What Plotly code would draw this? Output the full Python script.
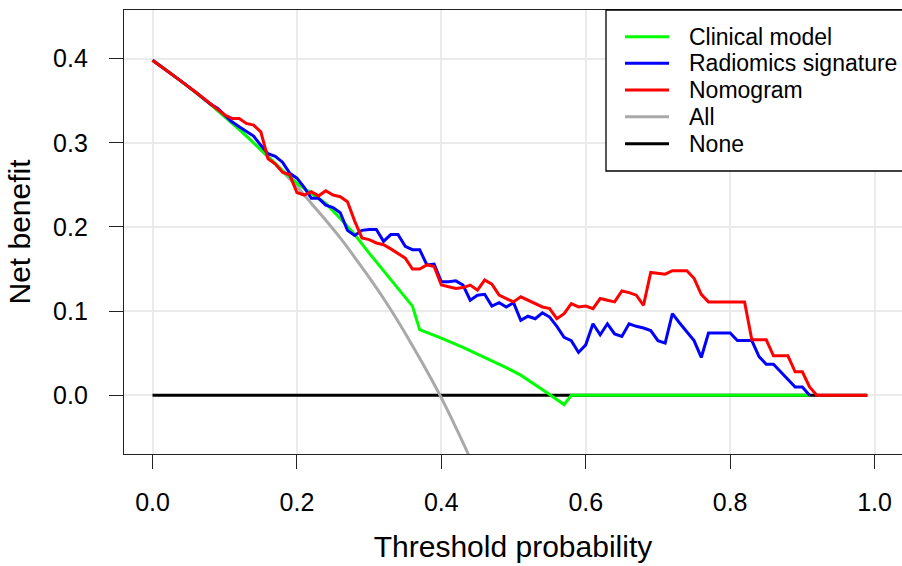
import plotly.graph_objects as go

# ---------------- data ----------------
thr_clinical = [0.00, 0.04, 0.08, 0.12, 0.16, 0.18, 0.20, 0.22, 0.24, 0.26, 0.28, 0.30,
                0.32, 0.34, 0.36, 0.37, 0.40, 0.43, 0.45, 0.47, 0.49, 0.51, 0.53, 0.55,
                0.57, 0.58, 0.91]
nb_clinical = [0.398, 0.373, 0.346, 0.316, 0.284, 0.267, 0.252, 0.240, 0.228, 0.210, 0.191, 0.169,
               0.148, 0.126, 0.106, 0.078, 0.068, 0.057, 0.049, 0.041, 0.033, 0.024, 0.013, 0.001,
               -0.011, 0.000, 0.000]

thr_radiomics = [0.00, 0.02, 0.04, 0.06, 0.08, 0.09, 0.10, 0.11, 0.12, 0.13, 0.14, 0.15, 0.16,
                 0.17, 0.18, 0.19, 0.20, 0.21, 0.22, 0.23, 0.24, 0.25, 0.26, 0.27, 0.28, 0.29,
                 0.30, 0.31, 0.32, 0.33, 0.34, 0.35, 0.36, 0.37, 0.38, 0.39, 0.40, 0.41, 0.42,
                 0.43, 0.44, 0.45, 0.46, 0.47, 0.48, 0.49, 0.50, 0.51, 0.52, 0.53, 0.54, 0.55,
                 0.56, 0.57, 0.58, 0.59, 0.60, 0.61, 0.62, 0.63, 0.64, 0.65, 0.66, 0.67, 0.68,
                 0.69, 0.70, 0.71, 0.72, 0.73, 0.74, 0.75, 0.76, 0.77, 0.78, 0.79, 0.80, 0.81,
                 0.82, 0.83, 0.84, 0.85, 0.86, 0.87, 0.88, 0.89, 0.90, 0.91]
nb_radiomics = [0.398, 0.386, 0.373, 0.360, 0.346, 0.341, 0.333, 0.325, 0.319, 0.314, 0.308, 0.297, 0.287,
                0.284, 0.277, 0.264, 0.258, 0.247, 0.234, 0.234, 0.226, 0.223, 0.217, 0.196, 0.190, 0.196,
                0.197, 0.197, 0.183, 0.191, 0.191, 0.177, 0.173, 0.173, 0.155, 0.156, 0.135, 0.135, 0.136,
                0.131, 0.113, 0.119, 0.120, 0.106, 0.110, 0.105, 0.110, 0.089, 0.094, 0.091, 0.098, 0.093,
                0.082, 0.069, 0.065, 0.051, 0.060, 0.085, 0.072, 0.085, 0.073, 0.070, 0.085, 0.082, 0.080,
                0.077, 0.065, 0.062, 0.097, 0.086, 0.076, 0.065, 0.045, 0.074, 0.074, 0.074, 0.074, 0.065,
                0.065, 0.065, 0.046, 0.037, 0.037, 0.028, 0.019, 0.010, 0.010, 0.000]

thr_nomogram = [0.00, 0.02, 0.04, 0.06, 0.08, 0.09, 0.10, 0.11, 0.12, 0.13, 0.14, 0.15, 0.16,
                0.17, 0.18, 0.19, 0.20, 0.21, 0.22, 0.23, 0.24, 0.25, 0.26, 0.27, 0.28, 0.29,
                0.30, 0.31, 0.32, 0.33, 0.34, 0.35, 0.36, 0.37, 0.38, 0.39, 0.40, 0.41, 0.42,
                0.43, 0.44, 0.45, 0.46, 0.47, 0.48, 0.49, 0.50, 0.51, 0.52, 0.53, 0.54, 0.55,
                0.56, 0.57, 0.58, 0.59, 0.60, 0.61, 0.62, 0.63, 0.64, 0.65, 0.66, 0.67, 0.68,
                0.69, 0.70, 0.71, 0.72, 0.73, 0.74, 0.75, 0.76, 0.77, 0.78, 0.79, 0.80, 0.81,
                0.82, 0.83, 0.84, 0.85, 0.86, 0.87, 0.88, 0.89, 0.90, 0.91, 0.92, 0.99]
nb_nomogram = [0.398, 0.386, 0.373, 0.360, 0.346, 0.339, 0.333, 0.329, 0.329, 0.323, 0.321, 0.313, 0.281,
               0.275, 0.265, 0.262, 0.241, 0.238, 0.242, 0.237, 0.243, 0.238, 0.236, 0.230, 0.207, 0.187,
               0.185, 0.181, 0.179, 0.174, 0.168, 0.163, 0.150, 0.150, 0.155, 0.153, 0.131, 0.129, 0.127,
               0.128, 0.131, 0.125, 0.137, 0.132, 0.119, 0.115, 0.111, 0.117, 0.113, 0.109, 0.105, 0.103,
               0.091, 0.097, 0.109, 0.105, 0.106, 0.103, 0.115, 0.113, 0.111, 0.124, 0.122, 0.119, 0.107,
               0.146, 0.145, 0.144, 0.148, 0.148, 0.148, 0.139, 0.120, 0.111, 0.111, 0.111, 0.111, 0.111,
               0.111, 0.066, 0.066, 0.066, 0.047, 0.047, 0.047, 0.028, 0.028, 0.010, 0.000, 0.000]

thr_all = [0.00, 0.02, 0.04, 0.06, 0.08, 0.10, 0.12, 0.14, 0.16, 0.18, 0.20, 0.22, 0.24,
           0.26, 0.28, 0.30, 0.32, 0.34, 0.36, 0.38, 0.40, 0.42, 0.44, 0.46]
nb_all = [0.398, 0.386, 0.373, 0.360, 0.346, 0.331, 0.316, 0.300, 0.283, 0.266, 0.248, 0.228, 0.208,
          0.187, 0.164, 0.140, 0.115, 0.088, 0.059, 0.029, -0.003, -0.038, -0.075, -0.115]

thr_none = [0.00, 0.99]
nb_none = [0.0, 0.0]

x_ticks = [0.0, 0.2, 0.4, 0.6, 0.8, 1.0]
y_ticks = [0.0, 0.1, 0.2, 0.3, 0.4]

legend_names = ["Clinical model", "Radiomics signature", "Nomogram", "All", "None"]
legend_colors = ["#00FF00", "#0000FF", "#FF0000", "#A9A9A9", "#000000"]

# ---------------- figure ----------------
FONT = "Liberation Sans, Arial, sans-serif"
fig = go.Figure()

fig.add_trace(go.Scatter(x=thr_none, y=nb_none, mode="lines", name="None",
                         line=dict(color="#000000", width=3)))
fig.add_trace(go.Scatter(x=thr_all, y=nb_all, mode="lines", name="All",
                         line=dict(color="#A9A9A9", width=3, shape="spline", smoothing=0.6)))
fig.add_trace(go.Scatter(x=thr_clinical, y=nb_clinical, mode="lines", name="Clinical model",
                         line=dict(color="#00FF00", width=3)))
fig.add_trace(go.Scatter(x=thr_radiomics, y=nb_radiomics, mode="lines", name="Radiomics signature",
                         line=dict(color="#0000FF", width=3)))
fig.add_trace(go.Scatter(x=thr_nomogram, y=nb_nomogram, mode="lines", name="Nomogram",
                         line=dict(color="#FF0000", width=3)))

# legend box drawn in paper coordinates (R-style legend at top right)
PL, PW, PT, PH = 124, 778, 10, 444   # plot area in pixels


def px_x(p):
    return (p - PL) / PW


def px_y(p):
    return (PT + PH - p) / PH


shapes = [dict(type="rect", xref="paper", yref="paper",
               x0=px_x(606), x1=px_x(920), y0=px_y(171), y1=px_y(PT),
               line=dict(color="black", width=1.3), fillcolor="white", layer="above")]
annotations = []
row_y = [36.7, 63.3, 90.0, 116.7, 143.7]
for name, col, ry in zip(legend_names, legend_colors, row_y):
    shapes.append(dict(type="line", xref="paper", yref="paper",
                       x0=px_x(625), x1=px_x(669), y0=px_y(ry), y1=px_y(ry),
                       line=dict(color=col, width=3), layer="above"))
    annotations.append(dict(xref="paper", yref="paper", x=px_x(687), y=px_y(ry),
                            xanchor="left", yanchor="middle", showarrow=False,
                            text=name, font=dict(family=FONT, size=23, color="black")))

fig.update_layout(
    width=902, height=566,
    margin=dict(l=124, r=0, t=10, b=112, autoexpand=False),
    paper_bgcolor="white", plot_bgcolor="white",
    font=dict(family=FONT, size=25, color="black"),
    showlegend=False,
    shapes=shapes, annotations=annotations,
    xaxis=dict(range=[-0.0395, 1.038], tickvals=x_ticks, tickformat=".1f",
               showgrid=True, gridcolor="#EBEBEB", gridwidth=1.5, zeroline=False,
               showline=True, linecolor="#222222", linewidth=1.3, mirror=True,
               ticks="outside", ticklen=14, tickwidth=1.3, tickcolor="#222222",
               ticklabelstandoff=12, automargin=False,
               tickfont=dict(family=FONT, size=25, color="black"),
               title=dict(text="Threshold probability", standoff=20,
                          font=dict(family=FONT, size=30, color="black"))),
    yaxis=dict(range=[-0.0697, 0.4578], tickvals=y_ticks, tickformat=".1f",
               showgrid=True, gridcolor="#EBEBEB", gridwidth=1.5, zeroline=False,
               showline=True, linecolor="#222222", linewidth=1.3, mirror=False,
               ticks="outside", ticklen=14, tickwidth=1.3, tickcolor="#222222",
               ticklabelstandoff=16, automargin=False,
               tickfont=dict(family=FONT, size=25, color="black"),
               title=dict(text="Net benefit", standoff=13,
                          font=dict(family=FONT, size=30, color="black"))),
)

fig.write_html("out.html",
               config={"displayModeBar": False},
               post_script="document.body.style.margin='0';document.body.style.overflow='hidden';")
